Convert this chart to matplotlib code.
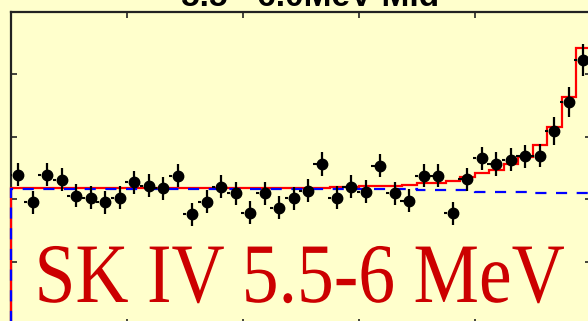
import numpy as np
import matplotlib
matplotlib.use("Agg")
import matplotlib.pyplot as plt
from matplotlib.patheffects import AbstractPathEffect
from matplotlib.transforms import Affine2D

# ---------------- data ----------------
bin_edges = np.linspace(-1.0, 1.0, 41)
bin_centers = 0.5 * (bin_edges[:-1] + bin_edges[1:])

data_values = [2.196, 1.978, 2.196, 2.156, 2.028, 2.014, 1.978, 2.014, 2.138, 2.110,
               2.090, 2.188, 1.882, 1.982, 2.102, 2.050, 1.894, 2.050, 1.934, 2.010,
               2.070, 2.284, 2.014, 2.102, 2.062, 2.270, 2.050, 1.988, 2.190, 2.190,
               1.890, 2.162, 2.330, 2.284, 2.316, 2.346, 2.350, 2.550, 2.782, 3.116]
data_errors = [0.092] * 37 + [0.112, 0.120, 0.128]

signal_bg_values = [2.088] * 20 + [2.090, 2.092, 2.096, 2.098, 2.104, 2.108, 2.110, 2.112,
                                   2.130, 2.130, 2.148, 2.180, 2.208, 2.236, 2.280, 2.340,
                                   2.436, 2.582, 2.822, 3.210]
background_values = [2.086] * 28 + [2.076] * 4 + [2.062] * 4 + [2.054] * 2 + [2.050] * 2

y_ticks = [1.0, 1.5, 2.0, 2.5, 3.0, 3.5]
x_ticks = [-1.0, -0.6, -0.2, 0.2, 0.6, 1.0]
title_text = "5.5 - 6.0MeV Mid"
label_text = "SK IV 5.5-6 MeV"


class Stretch(AbstractPathEffect):
    """Scale glyph outlines about the text baseline."""
    def __init__(self, sx=1.0, sy=1.0):
        super().__init__()
        self._t = Affine2D().scale(sx, sy)

    def draw_path(self, renderer, gc, tpath, affine, rgbFace=None):
        renderer.draw_path(gc, tpath, self._t + affine, rgbFace)


W, H = 588, 321
bg = "#ffffcc"
fig = plt.figure(figsize=(W / 100, H / 100), dpi=100, facecolor=bg)
ax = fig.add_axes([11 / W, (H - 324.5) / H, 579.5 / W, 312.5 / H], facecolor=bg)
ax.set_xlim(-1, 1)
ax.set_ylim(y_ticks[0], y_ticks[-1])

ax.stairs(signal_bg_values, bin_edges, baseline=y_ticks[0], color="#ff0000", lw=1.6,
          zorder=3, clip_on=False)
ax.stairs(background_values, bin_edges, baseline=y_ticks[0], color="#0000ff", lw=1.6,
          linestyle=(0, (5, 4.3)), zorder=3.1, clip_on=False)

ax.errorbar(bin_centers, data_values, yerr=data_errors, fmt="o", color="black",
            ms=7.5, elinewidth=1.6, capsize=0, zorder=5)
ax.hlines(data_values, bin_centers - 0.031, bin_centers - 0.020, color="black", lw=1.5, zorder=5)

for s in ax.spines.values():
    s.set_color("#222222")
    s.set_linewidth(1.6)
ax.set_xticks(x_ticks)
ax.set_yticks(y_ticks)
ax.tick_params(direction="in", length=4, width=1.2, top=True, right=True,
               labelbottom=False, labelleft=False, color="#222222")

fig.text(310 / W, (H - 6) / H, title_text, ha="center", va="baseline",
         fontsize=24, fontweight="bold", family="Liberation Sans", color="black")

fig.text(34.5 / W, (H - 302) / H, label_text, ha="left", va="baseline",
         fontsize=53, family="Liberation Serif", color="#cc0000",
         path_effects=[Stretch(1.0, 1.15)], zorder=10)

fig.savefig("out.png", dpi=100, facecolor=bg)
